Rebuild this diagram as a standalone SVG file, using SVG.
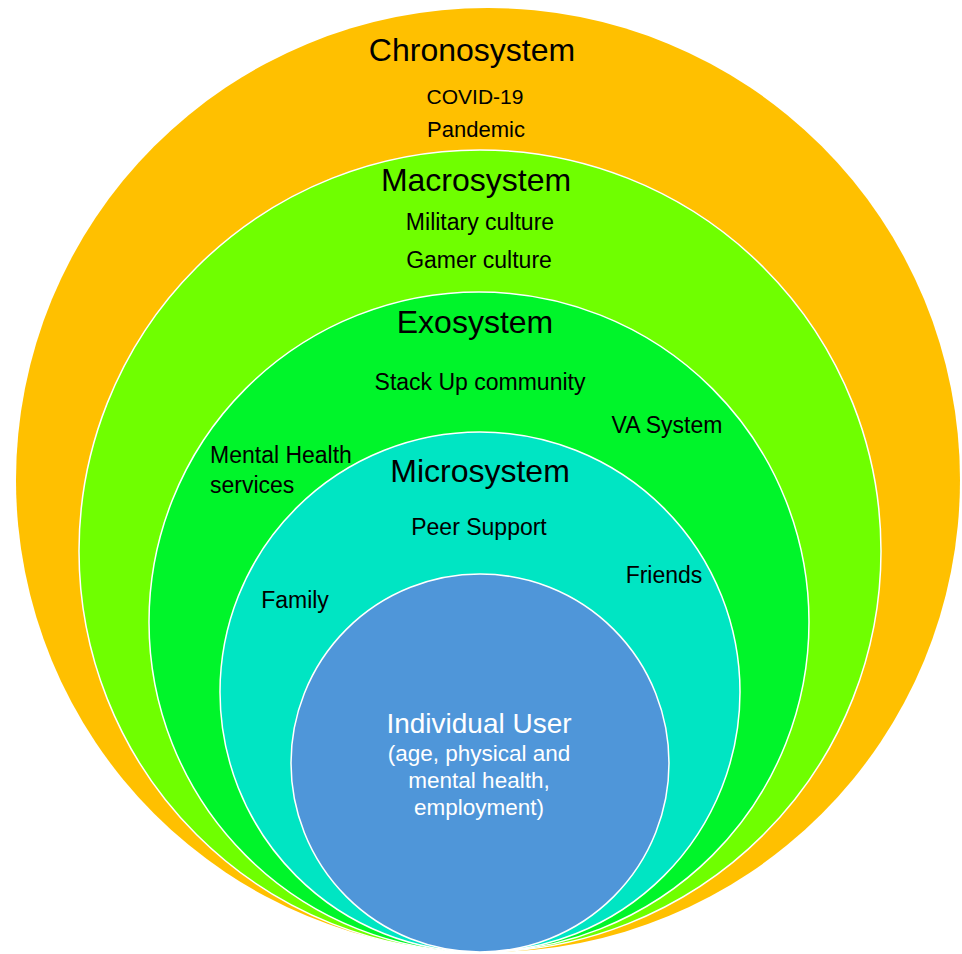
<svg xmlns="http://www.w3.org/2000/svg" width="962" height="954" viewBox="0 0 962 954">
<style>
.ring{stroke:#ffffff;stroke-width:1.5}
.t{font-family:"Liberation Sans",Arial,sans-serif;fill:#000000}
.title{font-size:32px}
.small{font-size:23px}
.sub{font-size:22.5px}
.c{text-anchor:middle}
.w{fill:#ffffff}
</style>
<rect width="962" height="954" fill="#ffffff"/>
<g id="chronosystem">
<circle cx="488" cy="480" r="472" fill="#FFC000"/>
<text class="t title c" x="472" y="61">Chronosystem</text>
<text class="t c" x="475" y="104" font-size="21">COVID-19</text>
<text class="t c" x="476" y="137" font-size="22">Pandemic</text>
</g>
<g id="macrosystem">
<circle class="ring" cx="480" cy="551" r="401" fill="#6FFF00"/>
<text class="t title c" x="476" y="191">Macrosystem</text>
<text class="t small c" x="480" y="230">Military culture</text>
<text class="t small c" x="479" y="268">Gamer culture</text>
</g>
<g id="exosystem">
<circle class="ring" cx="479" cy="622" r="330" fill="#00F52A"/>
<text class="t title c" x="475" y="333">Exosystem</text>
<text class="t small c" x="480" y="390">Stack Up community</text>
<text class="t small c" x="667" y="433">VA System</text>
<text class="t small" x="210" y="463">Mental Health</text>
<text class="t small" x="210" y="493">services</text>
</g>
<g id="microsystem">
<circle class="ring" cx="480" cy="692" r="260" fill="#00E5C3"/>
<text class="t title c" x="480" y="482">Microsystem</text>
<text class="t small c" x="479" y="535">Peer Support</text>
<text class="t small c" x="664" y="583">Friends</text>
<text class="t small c" x="295" y="608">Family</text>
</g>
<g id="individual-user">
<circle class="ring" cx="480" cy="763" r="189" fill="#4F96D9"/>
<text class="t w c" x="479" y="733" font-size="28">Individual User</text>
<text class="t w sub c" x="479" y="761">(age, physical and</text>
<text class="t w sub c" x="479" y="788">mental health,</text>
<text class="t w sub c" x="479" y="815">employment)</text>
</g>
<g id="connectors"></g>
</svg>
